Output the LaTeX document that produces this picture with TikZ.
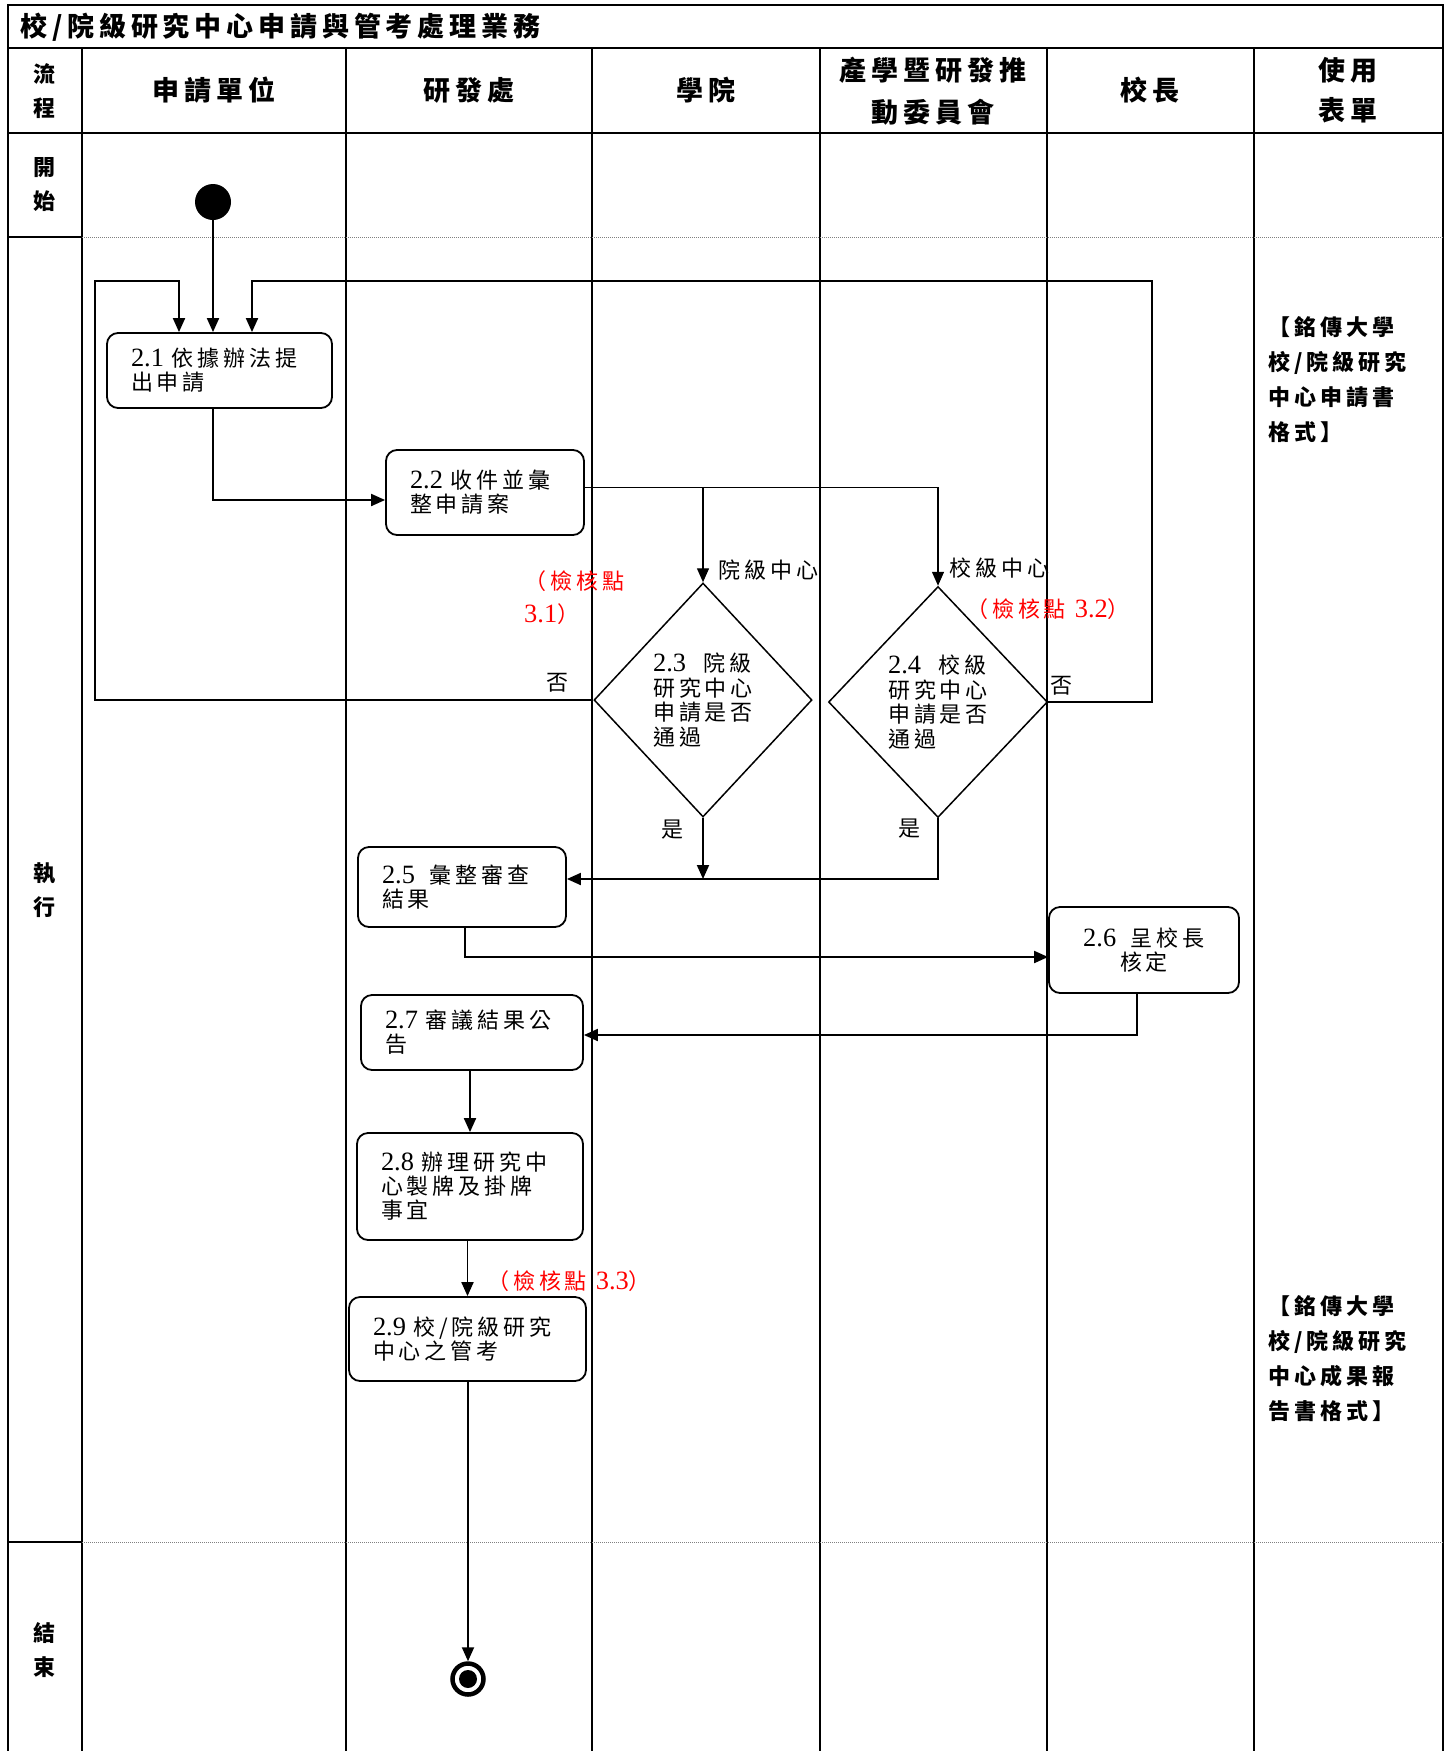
\documentclass[tikz,border=0pt]{standalone}
\usepackage{fontspec}
\setmainfont{Noto Sans CJK TC}[LetterSpace=18]
\newfontfamily\tm{Liberation Serif}[Scale=1.2]
\usepackage{tikz}
\usetikzlibrary{shapes.geometric, arrows.meta}

\tikzset{
  grid/.style={line width=2.2pt},
  sep/.style={gray, densely dotted, line width=1pt},
  head/.style={font=\bfseries\fontsize{27}{40}\selectfont, align=center, inner sep=0pt},
  side/.style={font=\bfseries\fontsize{22}{34}\selectfont, align=center, inner sep=0pt},
  form/.style={font=\bfseries\fontsize{22}{35}\selectfont, align=left, anchor=west, inner sep=0pt},
  task/.style={draw, line width=1.8pt, rounded corners=11pt, align=left, inner xsep=24pt,
    font=\fontsize{22}{24}\selectfont},
  test/.style={draw, diamond, line width=1.5pt, inner sep=0pt, align=left,
    font=\fontsize{22}{24.5}\selectfont},
  flow/.style={line width=1.9pt, -{Triangle[length=14pt,width=12pt]}},
  link/.style={line width=1.4pt, -{Triangle[length=14pt,width=12pt]}},
  note/.style={font=\fontsize{22}{24}\selectfont, inner sep=0pt},
  check/.style={red, font=\fontsize{22}{33}\selectfont, align=left, inner sep=0pt}
}

\begin{document}
\begin{tikzpicture}[x=1pt, y=-1pt]

\useasboundingbox (0,0) rectangle (1451,1751);

% frame and lanes
\draw[grid] (8,1751) -- (8,5) -- (1443,5) -- (1443,1751);
\draw[grid] (8,48) -- (1443,48);
\draw[grid] (8,133) -- (1443,133);
\foreach \x in {82,346,592,820,1047,1254}
  \draw[grid] (\x,48) -- (\x,1751);
\foreach \y in {237,1542} {
  \draw[grid] (8,\y) -- (82,\y);
  \draw[sep] (82,\y) -- (1443,\y);
}

\node[anchor=west, inner sep=0pt, font=\bfseries\fontsize{27}{30}\selectfont] (title) at (20,27) {校/院級研究中心申請與管考處理業務};

\node[side] (hflow) at (44,91) {流\\程};
\node[head] (hunit) at (214,90) {申請單位};
\node[head] (hrd) at (469,90) {研發處};
\node[head] (hcol) at (706,90) {學院};
\node[head, font=\bfseries\fontsize{27}{42}\selectfont] (hcom) at (933,91) {產學暨研發推\\動委員會};
\node[head] (hpres) at (1150,90) {校長};
\node[head] (hform) at (1348,90) {使用\\表單};

\node[side] (rstart) at (44,185) {開\\始};
\node[side] (rrun) at (44,890) {執\\行};
\node[side] (rend) at (44,1650) {結\\束};

% steps
\node[circle, fill, minimum size=36pt, inner sep=0pt] (start) at (213,202) {};
\node[task, text width=177pt, minimum height=75pt] (box21) at (219.5,370.5) {{\tm 2.1} 依據辦法提\\出申請};
\node[task, text width=150pt, minimum height=85pt] (box22) at (485,492.5) {{\tm 2.2} 收件並彙\\整申請案};
\node[test, minimum width=218pt, minimum height=234pt] (dia23) at (703,700) {{\tm 2.3}~~院級\\研究中心\\申請是否\\通過};
\node[test, minimum width=219pt, minimum height=231pt] (dia24) at (938,702) {{\tm 2.4}~~校級\\研究中心\\申請是否\\通過};
\node[task, text width=160pt, minimum height=80pt] (box25) at (462,887) {{\tm 2.5}~~彙整審查\\結果};
\node[task, text width=142pt, minimum height=86pt, align=center] (box26) at (1144,950) {{\tm 2.6}~~呈校長\\核定};
\node[task, text width=174pt, minimum height=75pt] (box27) at (472,1032.5) {{\tm 2.7} 審議結果公\\告};
\node[task, text width=178pt, minimum height=107pt] (box28) at (470,1186.5) {{\tm 2.8} 辦理研究中\\心製牌及掛牌\\事宜};
\node[task, text width=189pt, minimum height=84pt] (box29) at (467.5,1339) {{\tm 2.9} 校/院級研究\\中心之管考};
\node[circle, draw, line width=4.5pt, minimum size=31pt, inner sep=0pt] (stop) at (468,1679) {};
\fill (stop.center) circle[radius=9pt];

% connectors
\coordinate (backL) at (95,281);
\coordinate (backR) at (1152,281);
\coordinate (tap) at ([yshift=5pt]box22.east);
\coordinate (in25) at ([yshift=8pt]box25.east);

\draw[flow] (start) -- (start |- box21.north);
\draw[flow] (dia23.west) -| (backL) -| ([xshift=-40.5pt]box21.north);
\draw[flow] (dia24.east) -| (backR) -| ([xshift=32.5pt]box21.north);
\draw[flow] (start |- box21.south) |- ([yshift=-7.5pt]box22.west);
\draw[link] (tap) -| (dia24.north);
\draw[link] (tap -| dia23.north) -- (dia23.north);
\draw[flow] (dia24.south) |- (in25);
\draw[flow] (dia23.south) -- (dia23.south |- in25);
\draw[flow] ([xshift=3pt]box25.south) |- ([yshift=-7pt]box26.west);
\draw[flow] ([xshift=-7pt]box26.south) |- ([yshift=-2.5pt]box27.east);
\draw[flow] (box28.north |- box27.south) -- (box28.north);
\draw[flow] (box29.north |- box28.south) -- (box29.north);
\draw[flow] (stop |- box29.south) -- (stop.north);

% labels
\node[note, anchor=west] (lcol) at (718,570) {院級中心};
\node[note, anchor=west] (luni) at (949,568) {校級中心};
\node[note] (no23) at (557,683) {否};
\node[note] (no24) at (1061,686) {否};
\node[note] (yes23) at (672,830) {是};
\node[note] (yes24) at (909,829) {是};
\node[check, anchor=west] (chk31) at (524,598) {（檢核點\\{\tm 3.1}）};
\node[check] (chk32) at (1048,609) {（檢核點 {\tm 3.2}）};
\node[check] (chk33) at (569,1281) {（檢核點 {\tm 3.3}）};

\node[form] (form1) at (1268,380) {【銘傳大學\\校/院級研究\\中心申請書\\格式】};
\node[form] (form2) at (1268,1359) {【銘傳大學\\校/院級研究\\中心成果報\\告書格式】};

\end{tikzpicture}
\end{document}
